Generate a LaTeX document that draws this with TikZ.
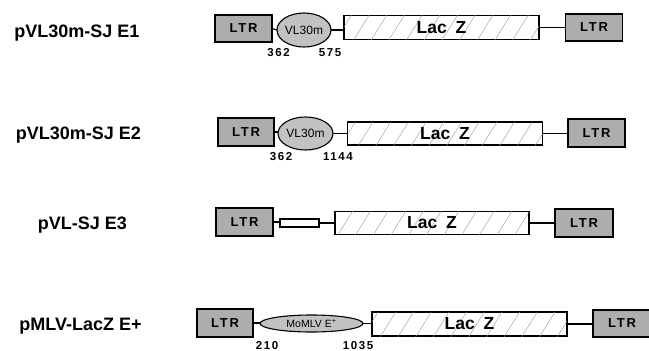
\documentclass[tikz,border=0pt]{standalone}
\usepackage{fontspec}
\setmainfont{Liberation Sans}
\newfontfamily\spacedfont[LetterSpace=14]{Liberation Sans}
\usetikzlibrary{shapes.geometric,patterns.meta}
\definecolor{ltrgray}{gray}{0.68}
\definecolor{ellgray}{gray}{0.76}
\definecolor{hatchgray}{gray}{0.6}
\tikzset{
  box/.style={draw, line width=1.1pt, inner sep=0pt, outer sep=0pt},
  ltr/.style={box, fill=ltrgray, minimum width=57pt, minimum height=27pt,
    font=\spacedfont\bfseries\fontsize{13}{13}\selectfont, text depth=0pt},
  lacz/.style={box, fill=white, minimum width=195pt, minimum height=24pt,
    postaction={pattern={Lines[angle=58, distance=15pt, line width=0.4pt]}, pattern color=hatchgray},
    font=\bfseries\fontsize{17.5}{17.5}\selectfont},
  prom/.style={box, ellipse, fill=ellgray, font=\fontsize{12}{12}\selectfont},
  conn/.style={line width=1.1pt},
  num/.style={font=\spacedfont\bfseries\fontsize{11.5}{11.5}\selectfont, inner sep=0pt},
  title/.style={font=\bfseries\fontsize{18}{18}\selectfont, inner sep=0pt}
}
\begin{document}
\begin{tikzpicture}[x=1pt,y=-1pt]
\useasboundingbox (0,0) rectangle (649,351);
\clip (0,0) rectangle (649,351);
% titles
\node[title] (t1) at (77,33) {pVL30m-SJ E1};
\node[title] (t2) at (78.5,135) {pVL30m-SJ E2};
\node[title] (t3) at (82.5,225) {pVL-SJ E3};
\node[title] (t4) at (80.5,326) {pMLV-LacZ E+};
% row 1
\node[ltr] (a1) at (243.5,28.5) {LTR};
\node[prom, minimum width=54pt, minimum height=34pt, inner sep=0pt] (p1) at (304,30) {VL30m};
\node[lacz] (z1) at (441.5,27.5) {Lac\hspace{0.5em}Z};
\node[ltr] (b1) at (594,27.5) {LTR};
\draw[conn] (a1.east) -- (p1.west);
\draw[conn] (p1.east) -- (p1.east -| z1.west);
\draw[conn] (z1.east) -- (z1.east -| b1.west);
\node[num] (n1a) at (278.5,53) {362};
\node[num] (n1b) at (330,53) {575};
% row 2
\node[ltr, minimum width=56pt, minimum height=28pt] (a2) at (246,132) {LTR};
\node[prom, minimum width=55pt, minimum height=33pt, inner sep=0pt] (p2) at (305.5,133.5) {VL30m};
\node[lacz, minimum height=23pt] (z2) at (445,133.5) {Lac\hspace{0.5em}Z};
\node[ltr, minimum height=28pt] (b2) at (596.5,133) {LTR};
\draw[conn] (a2.east) -- (a2.east -| p2.west);
\draw[conn] (p2.east) -- (p2.east -| z2.west);
\draw[conn] (z2.east) -- (z2.east -| b2.west);
\node[num] (n2a) at (281,157) {362};
\node[num] (n2b) at (338,157) {1144};
% row 3
\node[ltr, minimum height=28pt] (a3) at (244.5,222) {LTR};
\node[box, fill=white, minimum width=39pt, minimum height=8pt] (s3) at (299.5,223) {};
\node[lacz, minimum height=23pt, minimum width=194pt] (z3) at (432,223) {Lac\hspace{0.5em}Z};
\node[ltr, minimum width=58pt, minimum height=28pt] (b3) at (584,223) {LTR};
\draw[conn] (a3.east) -- (a3.east -| s3.west);
\draw[conn] (s3.east) -- (s3.east -| z3.west);
\draw[conn] (z3.east) -- (z3.east -| b3.west);
% row 4
\node[ltr, minimum width=56pt, minimum height=28pt] (a4) at (225,323) {LTR};
\node[prom, minimum width=103pt, minimum height=17pt, inner sep=0pt, font=\fontsize{10.5}{10.5}\selectfont] (p4) at (311.5,323.5) {MoMLV E\textsuperscript{+}};
\node[lacz] (z4) at (469.5,324) {Lac\hspace{0.5em}Z};
\node[ltr, minimum width=58pt] (b4) at (622,323.5) {LTR};
\draw[conn] (a4.east) -- (a4.east -| p4.west);
\draw[conn] (p4.east) -- (p4.east -| z4.west);
\draw[conn] (z4.east) -- (z4.east -| b4.west);
\node[num] (n4a) at (267,346) {210};
\node[num] (n4b) at (358,346) {1035};
\end{tikzpicture}
\end{document}
